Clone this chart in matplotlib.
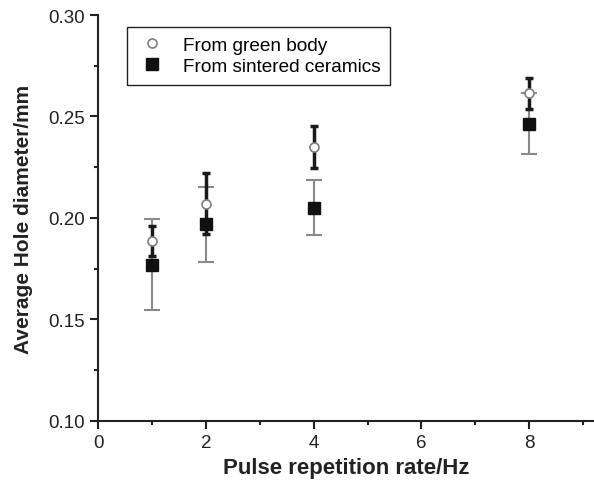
import numpy as np
import matplotlib.pyplot as plt
from matplotlib.ticker import MultipleLocator, FormatStrFormatter

plt.rcParams['font.family'] = ['Liberation Sans', 'DejaVu Sans']

# Frecventa pulsurilor (Hz)
rate = [1, 2, 4, 8]
# Diametru mediu - din corp verde
green_d = [0.1886, 0.207, 0.235, 0.2615]
green_err = [0.0075, 0.0151, 0.0103, 0.0076]
# Diametru mediu - din ceramica sinterizata
sint_d = [0.177, 0.1968, 0.205, 0.2464]
sint_err = [0.0224, 0.0185, 0.0136, 0.0150]

fig = plt.figure(figsize=(5.94, 4.85), dpi=100)
ax = fig.add_axes([0.165, 0.130, 0.835, 0.837])

# bare de eroare gri pentru ceramica sinterizata
ax.errorbar(rate, sint_d, yerr=sint_err, fmt='none', ecolor='#8a8a8a',
            elinewidth=1.5, capsize=5.5, capthick=1.5, zorder=2)
# bare de eroare negre pentru corpul verde
ax.errorbar(rate, green_d, yerr=green_err, fmt='none', ecolor='#1a1a1a',
            elinewidth=2.5, capsize=3, capthick=2.5, zorder=3)
ax.plot(rate, sint_d, 's', color='#111111', ms=8, zorder=4,
        label='From sintered ceramics')
ax.plot(rate, green_d, 'o', mfc='white', mec='#808080', mew=1.2, ms=6.5,
        zorder=5, label='From green body')

ax.set_xlim(0, 9.2)
ax.set_ylim(0.10, 0.30)
ax.xaxis.set_major_locator(MultipleLocator(2))
ax.xaxis.set_minor_locator(MultipleLocator(1))
ax.yaxis.set_major_locator(MultipleLocator(0.05))
ax.yaxis.set_minor_locator(MultipleLocator(0.025))
ax.yaxis.set_major_formatter(FormatStrFormatter('%.2f'))

for s in ['top', 'right']:
    ax.spines[s].set_visible(False)
for s in ['left', 'bottom']:
    ax.spines[s].set_linewidth(1.5)
    ax.spines[s].set_color('#222222')
ax.tick_params(which='major', direction='out', length=6, width=1.5,
               labelsize=13.5, color='#222222', labelcolor='#222222')
ax.tick_params(which='minor', direction='out', length=3, width=1.5,
               color='#222222')

ax.set_xlabel('Pulse repetition rate/Hz', fontsize=16, fontweight='bold',
              color='#222222')
ax.set_ylabel('Average Hole diameter/mm', fontsize=15, fontweight='bold',
              color='#222222', labelpad=11)

h, l = ax.get_legend_handles_labels()
leg = ax.legend(h[::-1], l[::-1], loc='upper left',
                bbox_to_anchor=(0.058, 0.97), borderaxespad=0, fontsize=13.7,
                fancybox=False, edgecolor='#222222', framealpha=1,
                handlelength=1.6, handletextpad=0.85, borderpad=0.5,
                labelspacing=0.2)
leg.get_frame().set_linewidth(1.0)

fig.savefig('out.png', dpi=100)
